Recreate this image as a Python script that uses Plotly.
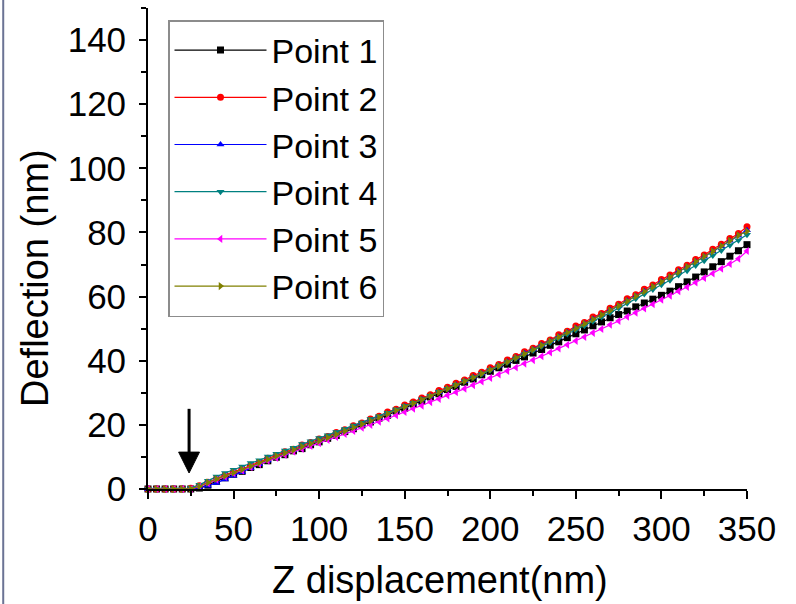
import plotly.graph_objects as go

# ---------------- data ----------------
z_nm = list(range(0, 355, 5))

point1 = [0, 0, 0, 0, 0, 0,
          0.3, 1.2, 2.4, 3.5, 4.6, 5.5, 6.7, 7.6, 8.8, 9.9, 10.7, 11.9, 12.6, 13.8,
          14.7, 15.8, 16.7, 17.9, 18.8, 20.0, 20.9, 22.1, 23.0, 24.3, 25.2, 26.5, 27.4,
          28.7, 29.7, 31.0, 32.0, 33.3, 34.3, 35.6, 36.7, 37.8, 38.9, 40.1, 41.2, 42.4,
          43.5, 44.8, 45.9, 47.2, 48.4, 49.6, 50.9, 52.1, 53.4, 54.4, 55.5, 56.8, 58.0,
          59.2, 60.4, 61.7, 63.1, 64.6, 66.1, 67.7, 69.3, 70.9, 72.6, 74.3, 76.2]

point2 = [0, 0, 0, 0, 0, 0.2,
          1.0, 2.1, 3.3, 4.2, 5.4, 6.2, 7.4, 8.3, 9.6, 10.4, 11.6, 12.4, 13.7, 14.5,
          15.6, 16.4, 17.6, 18.5, 19.7, 20.6, 21.8, 22.7, 24.0, 24.9, 26.2, 27.1, 28.4,
          29.4, 30.7, 31.7, 33.0, 34.0, 35.4, 36.4, 37.8, 38.8, 40.2, 41.3, 42.8, 43.9,
          45.4, 46.5, 48.1, 49.2, 50.8, 51.9, 53.6, 54.7, 56.4, 57.6, 59.3, 60.6, 62.3,
          63.6, 65.3, 66.7, 68.4, 69.8, 71.6, 73.0, 74.8, 76.3, 78.1, 79.7, 81.8]

point3 = [0, 0, 0, 0, 0, 0,
          0.4, 1.0, 1.9, 3.0, 4.1, 5.2, 6.5, 7.7, 8.9, 10.0, 11.1, 12.1, 13.2, 14.1,
          15.1, 16.0, 17.1, 18.0, 19.3, 20.2, 21.3, 22.3, 23.5, 24.5, 25.7, 26.7, 27.9,
          29.0, 30.2, 31.3, 32.5, 33.6, 34.9, 36.0, 37.3, 38.4, 39.7, 40.9, 42.3, 43.5,
          44.9, 46.1, 47.5, 48.8, 50.2, 51.5, 53.0, 54.3, 55.8, 57.1, 58.7, 60.1, 61.7,
          63.1, 64.7, 66.1, 67.8, 69.2, 70.9, 72.4, 74.1, 75.7, 77.4, 79.0, 80.7]

point4 = [0, 0, 0, 0, 0, 0.3,
          1.3, 2.6, 3.9, 5.0, 6.0, 7.0, 8.1, 9.0, 10.1, 11.0, 12.0, 12.9, 14.0, 14.9,
          15.9, 16.8, 17.8, 18.7, 19.8, 20.7, 21.8, 22.7, 23.8, 24.8, 25.9, 26.9, 28.0,
          29.1, 30.3, 31.3, 32.5, 33.6, 34.8, 35.9, 37.1, 38.3, 39.5, 40.7, 42.0, 43.2,
          44.5, 45.7, 47.0, 48.3, 49.6, 50.9, 52.3, 53.6, 55.0, 56.4, 57.9, 59.3, 60.8,
          62.2, 63.7, 65.1, 66.7, 68.1, 69.7, 71.2, 72.8, 74.4, 76.0, 77.6, 79.3]

point5 = [0, 0, 0, 0, 0, 0,
          0.7, 1.8, 2.9, 3.8, 4.9, 5.8, 6.8, 7.7, 8.8, 9.7, 10.6, 11.6, 12.5, 13.4,
          14.3, 15.3, 16.2, 17.2, 18.1, 19.1, 20.0, 21.0, 22.0, 23.0, 24.0, 25.0, 26.0,
          27.1, 28.1, 29.2, 30.2, 31.3, 32.4, 33.5, 34.6, 35.7, 36.8, 37.9, 39.1, 40.2,
          41.4, 42.6, 43.8, 45.0, 46.2, 47.4, 48.7, 49.9, 51.2, 52.4, 53.7, 55.0, 56.3,
          57.6, 59.0, 60.3, 61.7, 63.0, 64.4, 65.8, 67.2, 68.7, 70.2, 71.8, 74.2]

point6 = [0, 0, 0, 0, 0, 0.1,
          0.8, 2.0, 3.1, 4.1, 5.1, 6.1, 7.1, 8.2, 9.2, 10.3, 11.2, 12.2, 13.2, 14.1,
          15.0, 16.0, 17.0, 18.0, 19.2, 20.2, 21.2, 22.3, 23.4, 24.5, 25.6, 26.7, 27.8,
          29.0, 30.1, 31.3, 32.4, 33.6, 34.8, 36.0, 37.2, 38.4, 39.6, 40.9, 42.2, 43.5,
          44.8, 46.1, 47.4, 48.8, 50.1, 51.5, 52.9, 54.3, 55.7, 57.1, 58.6, 60.1, 61.6,
          63.1, 64.6, 66.1, 67.7, 69.3, 70.9, 72.5, 74.1, 75.8, 77.4, 79.1, 80.4]

series_names = ["Point 1", "Point 2", "Point 3", "Point 4", "Point 5", "Point 6"]
series_values = [point1, point2, point3, point4, point5, point6]
series_colors = ["#000000", "#FF0000", "#0000FF", "#008080", "#FF00FF", "#808000"]
series_symbols = ["square", "circle", "triangle-up", "triangle-down", "triangle-left", "triangle-right"]

x_ticks = [0, 50, 100, 150, 200, 250, 300, 350]
y_ticks = [0, 20, 40, 60, 80, 100, 120, 140]

# arrow marking contact point (data units)
ARROW_X = 24
ARROW_TIP = 5
ARROW_BASE = 11.5
ARROW_TAIL = 25
ARROW_HALF = 6.1

FONT = "Liberation Sans, Arial, sans-serif"

fig = go.Figure()
for name, vals, col, sym in zip(series_names, series_values, series_colors, series_symbols):
    fig.add_trace(go.Scatter(
        x=z_nm, y=vals, name=name, mode="lines+markers",
        line=dict(color=col, width=1.2),
        marker=dict(symbol=sym, size=7, color=col),
        cliponaxis=False,
    ))

# arrow: shaft + head
fig.add_shape(type="line", xref="x", yref="y",
              x0=ARROW_X, x1=ARROW_X, y0=ARROW_TAIL, y1=ARROW_BASE,
              line=dict(color="black", width=3))
fig.add_shape(type="path", xref="x", yref="y",
              path=f"M {ARROW_X-ARROW_HALF},{ARROW_BASE} L {ARROW_X+ARROW_HALF},{ARROW_BASE} L {ARROW_X},{ARROW_TIP} Z",
              fillcolor="black", line=dict(color="black", width=1))

# left border line of the original picture
fig.add_shape(type="line", xref="paper", yref="paper",
              x0=-0.2417, x1=-0.2417, y0=-0.25, y1=1.05,
              line=dict(color="#6B7394", width=2))

# axis titles as annotations
fig.add_annotation(text="Deflection (nm)", xref="paper", yref="paper",
                   x=(35 - 148) / 599, y=(489 - 278) / 481, textangle=-90,
                   showarrow=False, font=dict(family=FONT, size=38, color="black"),
                   xanchor="center", yanchor="middle")
fig.add_annotation(text="Z displacement(nm)", xref="paper", yref="paper",
                   x=(440 - 148) / 599, y=(489 - 580) / 481,
                   showarrow=False, font=dict(family=FONT, size=38, color="black"),
                   xanchor="center", yanchor="middle")

fig.update_layout(
    width=796, height=604,
    margin=dict(l=148, r=49, t=8, b=115),
    paper_bgcolor="white", plot_bgcolor="white",
    font=dict(family=FONT, color="black"),
    showlegend=True,
    legend=dict(
        x=(168 - 148) / 599, y=(489 - 20) / 481, xanchor="left", yanchor="top",
        bgcolor="white", bordercolor="#8C8C8C", borderwidth=1.5,
        font=dict(family=FONT, size=34, color="black"),
        itemwidth=92, tracegroupgap=0,
    ),
    xaxis=dict(
        range=[0, 350], tickvals=x_ticks, ticktext=[str(v) for v in x_ticks],
        showgrid=False, zeroline=False, showline=True, linecolor="black", linewidth=1.8,
        ticks="outside", ticklen=8, tickwidth=1.8, tickcolor="black",
        tickfont=dict(family=FONT, size=35, color="black"),
        minor=dict(tickvals=[25, 75, 125, 175, 225, 275, 325], ticks="outside", ticklen=5,
                   tickwidth=1.5, tickcolor="black", showgrid=False),
        mirror=False,
    ),
    yaxis=dict(
        range=[0, 150], tickvals=y_ticks, ticktext=[str(v) for v in y_ticks],
        showgrid=False, zeroline=False, showline=True, linecolor="black", linewidth=1.8,
        ticks="outside", ticklen=7, tickwidth=1.8, tickcolor="black",
        tickfont=dict(family=FONT, size=35, color="black"),
        minor=dict(tickvals=[10, 30, 50, 70, 90, 110, 130, 150], ticks="outside", ticklen=5,
                   tickwidth=1.5, tickcolor="black", showgrid=False),
        ticklabelstandoff=6,
        mirror=False,
    ),
)

fig.write_html("out.html", config={"displayModeBar": False},
               post_script="document.body.style.margin='0';")
